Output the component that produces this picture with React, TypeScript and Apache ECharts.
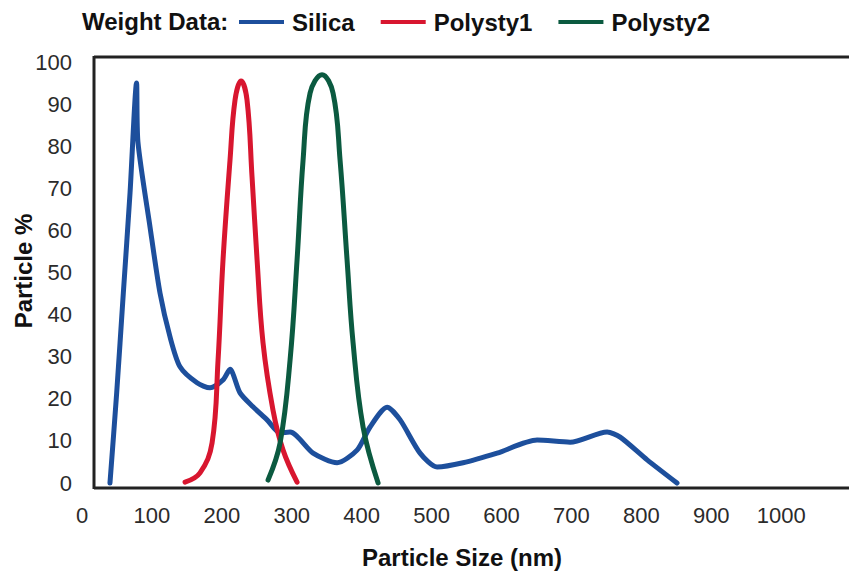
import React, { useEffect, useRef } from "react";
import * as echarts from "echarts";

const seriesNames = ["Silica", "Polysty1", "Polysty2"];
const seriesColors = ["#1d4f9c", "#d8162f", "#0b5a40"];

const silica: [number, number][] = [
  [40, 0], [49.6, 21.4], [59.1, 45.1], [68.7, 68.9], [78, 95],
  [80, 81], [97.3, 60.8], [111.6, 45.1], [125.9, 34.7], [140.2, 27.6],
  [164.5, 23.8], [183.1, 22.6], [201.7, 24.5], [211.7, 27], [226, 21.4],
  [244.6, 18.1], [264.7, 15], [283.3, 11.9], [297.6, 12.1], [330.5, 7.1],
  [364.8, 4.8], [393.4, 7.8], [412, 13.3], [436.3, 18], [455, 15],
  [483.5, 7.1], [507.9, 3.8], [545, 4.8], [593.7, 7.1], [650.9, 10.2],
  [698.1, 9.7], [751, 12.1], [769.7, 10.9], [808.3, 5.5], [851, 0],
];

const polysty1: [number, number][] = [
  [147.4, 0.2], [168.8, 2.4], [186, 9.5], [194.6, 29.2], [201.7, 53],
  [211.7, 76.7], [218.9, 91], [227.5, 95.5], [236, 91], [243.2, 72.7],
  [250.4, 53], [258.9, 33.3], [273.2, 17.3], [287.6, 7.8], [307.6, 0.2],
];

const polysty2: [number, number][] = [
  [266.1, 0.7], [283.3, 9.5], [297.6, 29.2], [307.6, 53], [316.2, 76.7],
  [326.2, 92.6], [343.3, 97], [359.1, 92.6], [369.1, 76.7], [379.1, 53],
  [387.7, 33.3], [402, 13.3], [423.5, 0],
];

const xTicks = [0, 100, 200, 300, 400, 500, 600, 700, 800, 900, 1000];
const yTicks = [0, 10, 20, 30, 40, 50, 60, 70, 80, 90, 100];

const boldFont = "'Liberation Sans', Arial, sans-serif";

export default function App() {
  const ref = useRef<HTMLDivElement>(null);

  useEffect(() => {
    if (!ref.current) return;
    const chart = echarts.init(ref.current, null, { renderer: "svg" });
    const data = [silica, polysty1, polysty2];
    chart.setOption({
      animation: false,
      backgroundColor: "#ffffff",
      grid: { left: 82, right: 0, top: 62, bottom: 91, containLabel: false },
      legend: {
        left: 234,
        top: 5,
        icon: "rect",
        itemWidth: 45,
        itemHeight: 4,
        itemGap: 26,
        data: seriesNames,
        textStyle: {
          fontFamily: boldFont,
          fontWeight: "bold",
          fontSize: 24,
          color: "#111",
          padding: [0, 0, 0, 3],
        },
      },
      xAxis: {
        type: "value",
        min: 0,
        max: 1097,
        interval: 100,
        axisLine: { show: false },
        axisTick: { show: false },
        splitLine: { show: false },
        axisLabel: {
          margin: 21,
          fontSize: 22,
          fontFamily: "'Liberation Sans', Arial, sans-serif",
          color: "#2b2b2b",
          showMaxLabel: false,
          formatter: (v: number) => (xTicks.includes(v) ? String(v) : ""),
        },
      },
      yAxis: {
        type: "value",
        min: yTicks[0],
        max: yTicks[yTicks.length - 1],
        interval: 10,
        axisLine: { show: false },
        axisTick: { show: false },
        splitLine: { show: false },
        axisLabel: {
          margin: 10,
          fontSize: 22,
          fontFamily: "'Liberation Sans', Arial, sans-serif",
          color: "#2b2b2b",
        },
      },
      graphic: [
        {
          type: "line",
          shape: { x1: 94, y1: 57, x2: 849, y2: 57 },
          style: { stroke: "#222", lineWidth: 3 },
          z: 1,
        },
        {
          type: "line",
          shape: { x1: 94, y1: 56, x2: 94, y2: 489 },
          style: { stroke: "#222", lineWidth: 3 },
          z: 1,
        },
        {
          type: "line",
          shape: { x1: 94, y1: 488, x2: 849, y2: 488 },
          style: { stroke: "#222", lineWidth: 3 },
          z: 1,
        },
        {
          type: "text",
          left: 82,
          top: 9,
          style: {
            text: "Weight Data:",
            font: `bold 24px ${boldFont}`,
            fill: "#111",
          },
        },
        {
          type: "text",
          x: 462,
          y: 557,
          style: {
            text: "Particle Size (nm)",
            font: `bold 24px ${boldFont}`,
            fill: "#111",
            align: "center",
            verticalAlign: "middle",
          },
        },
        {
          type: "text",
          x: 23,
          y: 271,
          rotation: Math.PI / 2,
          style: {
            text: "Particle %",
            font: `bold 24px ${boldFont}`,
            fill: "#111",
            align: "center",
            verticalAlign: "middle",
          },
        },
      ],
      series: seriesNames.map((name, i) => ({
        name,
        type: "line",
        data: data[i],
        smooth: i === 0 ? 0.25 : 0.4,
        symbol: "none",
        clip: false,
        z: 3 + i,
        lineStyle: { color: seriesColors[i], width: 5, cap: "round", join: "round" },
        itemStyle: { color: seriesColors[i] },
      })),
    });
    return () => chart.dispose();
  }, []);

  return <div ref={ref} style={{ width: 849, height: 574, position: "absolute", left: 0, top: 0 }} />;
}
